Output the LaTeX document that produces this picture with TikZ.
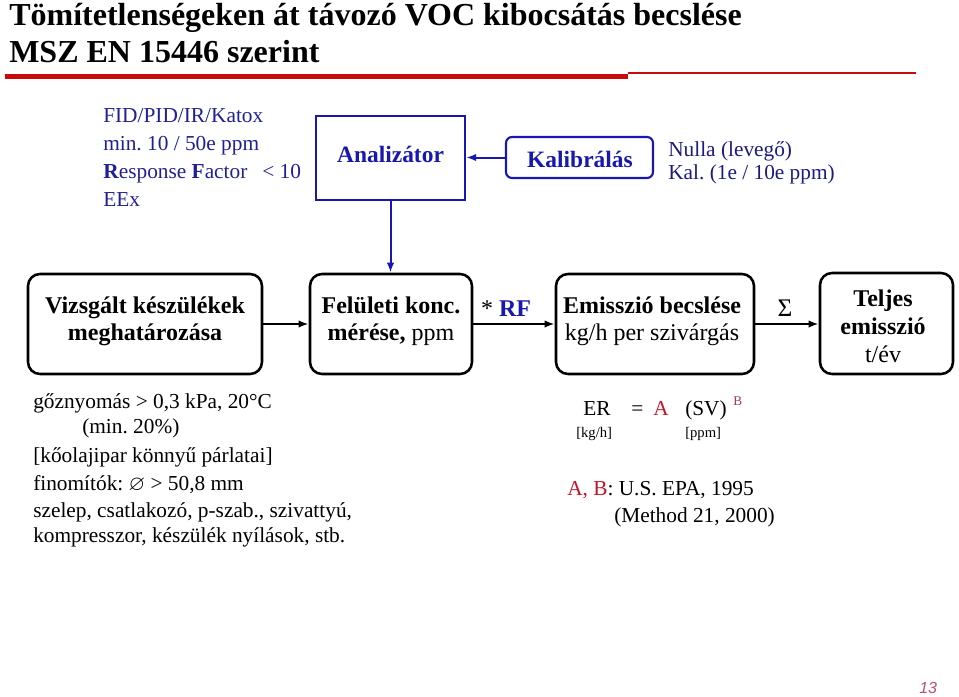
\documentclass[tikz,border=0pt]{standalone}
\usepackage{amssymb}
\usepackage{fontspec}
\setmainfont{Liberation Serif}
\newfontfamily\pagefont{Liberation Sans}
\usetikzlibrary{arrows.meta}
\frenchspacing
\definecolor{bluetxt}{RGB}{32,32,150}
\definecolor{bluebox}{RGB}{24,24,175}
\definecolor{redline}{RGB}{200,10,10}
\definecolor{redtxt}{RGB}{195,20,40}
\definecolor{supred}{RGB}{165,60,85}
\definecolor{pagenum}{RGB}{190,80,100}
\tikzset{
  txt/.style={inner sep=0pt, anchor=base west, font=\fontsize{16}{19}\selectfont\frenchspacing},
  toptxt/.style={txt, font=\fontsize{16}{19}\selectfont\frenchspacing, text=bluetxt},
  titletxt/.style={inner sep=0pt, anchor=base west, font=\bfseries\fontsize{24}{28}\selectfont},
  blackbox/.style={draw=black, line width=1.9pt, rounded corners=9pt, inner sep=0pt},
  bluerect/.style={draw=bluebox, line width=1.6pt, inner sep=0pt},
  boxtxt/.style={inner sep=0pt, align=center, font=\fontsize{18}{21}\selectfont},
  arr/.style={line width=1.5pt, -{Latex[length=7.5pt,width=5.5pt]}},
}
\begin{document}
\begin{tikzpicture}[x=0.75pt,y=-0.75pt]
\useasboundingbox (0,0) rectangle (959,696);
% title
\node[titletxt] (t1) at (9,25) {Tömítetlenségeken át távozó VOC kibocsátás becslése};
\node[titletxt] (t2) at (9,62) {MSZ EN 15446 szerint};
\draw[redline, line width=3.75pt] (5,76.5) -- (628,76.5);
\draw[redline, line width=1.5pt] (628,73) -- (916,73);
% top left text
\node[toptxt] (l1) at (103,122) {FID/PID/IR/Katox};
\node[toptxt] (l2) at (103,150) {min. 10 / 50e ppm};
\node[toptxt] (l3) at (103,178) {\textbf{R}esponse \textbf{F}actor};
\node[toptxt] (l3b) at (262,178) {< 10};
\node[toptxt] (l4) at (103,206) {EEx};
% analyser and calibration
\node[bluerect, minimum width=111.75pt, minimum height=63pt] (anal) at (390.5,158) {};
\node[boxtxt, text=bluebox, font=\bfseries\fontsize{17.6}{20}\selectfont] (analt) at (390.5,154) {Analizátor};
\node[bluerect, rounded corners=4.5pt, minimum width=110.25pt, minimum height=30.75pt] (kal) at (579.5,157.5) {};
\node[boxtxt, text=bluebox, font=\bfseries\fontsize{17.6}{20}\selectfont] (kalt) at (580,159) {Kalibrálás};
\node[toptxt, text=bluetxt!85!black] (n1) at (668,156) {Nulla (levegő)};
\node[toptxt, text=bluetxt!85!black] (n2) at (668,179) {Kal. (1e / 10e ppm)};
\draw[arr, bluebox] (kal.west) -- (anal.east |- kal.west);
% bottom row
\node[blackbox, minimum width=175.5pt, minimum height=75pt] (vizs) at (145,324) {};
\node[boxtxt, font=\bfseries\fontsize{18}{20.5}\selectfont] (vizst) at (145,321) {Vizsgált készülékek\\meghatározása};
\node[blackbox, minimum width=121.5pt, minimum height=75pt] (fel) at (391,324) {};
\node[boxtxt, font=\fontsize{18}{20.5}\selectfont] (felt) at (391,321) {\textbf{Felületi konc.}\\\textbf{mérése,} ppm};
\node[blackbox, minimum width=148.5pt, minimum height=75pt] (emi) at (655,324) {};
\node[boxtxt, font=\fontsize{18}{20.5}\selectfont] (emit) at (652,321) {\textbf{Emisszió becslése}\\kg/h per szivárgás};
\node[blackbox, minimum width=99.75pt, minimum height=75.75pt] (tel) at (886.5,323.5) {};
\node[boxtxt, font=\fontsize{18}{21}\selectfont] (telt) at (883,326) {\textbf{Teljes}\\\textbf{emisszió}\\t/év};
\draw[arr, bluebox] (anal.south) -- (fel.north -| anal.south);
\draw[arr] (vizs.east) -- (fel.west);
\draw[arr] (fel.east) -- (emi.west);
\draw[arr] (emi.east) -- (tel.west |- emi.east);
\node[boxtxt] (rf) at (506,309) {* \textcolor{bluebox}{\textbf{RF}}};
\node[boxtxt, font=\fontsize{19}{22}\selectfont] (sig) at (785,308) {Σ};
% bottom left text
\node[txt] (b1) at (33,408) {gőznyomás > 0,3 kPa, 20°C};
\node[txt] (b2) at (82,433) {(min. 20\%)};
\node[txt] (b3) at (33,462) {[kőolajipar könnyű párlatai]};
\node[txt] (b4) at (33,490) {finomítók: $\varnothing$ > 50,8 mm};
\node[txt] (b5) at (33,517) {szelep, csatlakozó, p-szab., szivattyú,};
\node[txt] (b6) at (33,542) {kompresszor, készülék nyílások, stb.};
% formula
\node[txt, font=\fontsize{16}{19}\selectfont] (er) at (583,415) {ER};
\node[txt, font=\fontsize{16}{19}\selectfont] (eq) at (631,415) {=};
\node[txt, font=\fontsize{16}{19}\selectfont, text=redtxt] (fa) at (653,415) {A};
\node[txt, font=\fontsize{16}{19}\selectfont] (sv) at (685,415) {(SV)};
\node[txt, font=\fontsize{10}{12}\selectfont, text=supred] (fb) at (733,405) {B};
\node[txt, font=\fontsize{11}{13}\selectfont] (kgh) at (576,437) {[kg/h]};
\node[txt, font=\fontsize{11}{13}\selectfont] (ppm) at (685,437) {[ppm]};
\node[txt, font=\fontsize{16}{19}\selectfont] (ab) at (567,495) {\textcolor{redtxt}{A, B}: U.S. EPA, 1995};
\node[txt, font=\fontsize{16}{19}\selectfont] (meth) at (614,522) {(Method 21, 2000)};
% page number
\node[inner sep=0pt, anchor=base west, text=pagenum, font=\pagefont\itshape\fontsize{12}{14}\selectfont] (pg) at (919,693) {13};
\end{tikzpicture}
\end{document}
